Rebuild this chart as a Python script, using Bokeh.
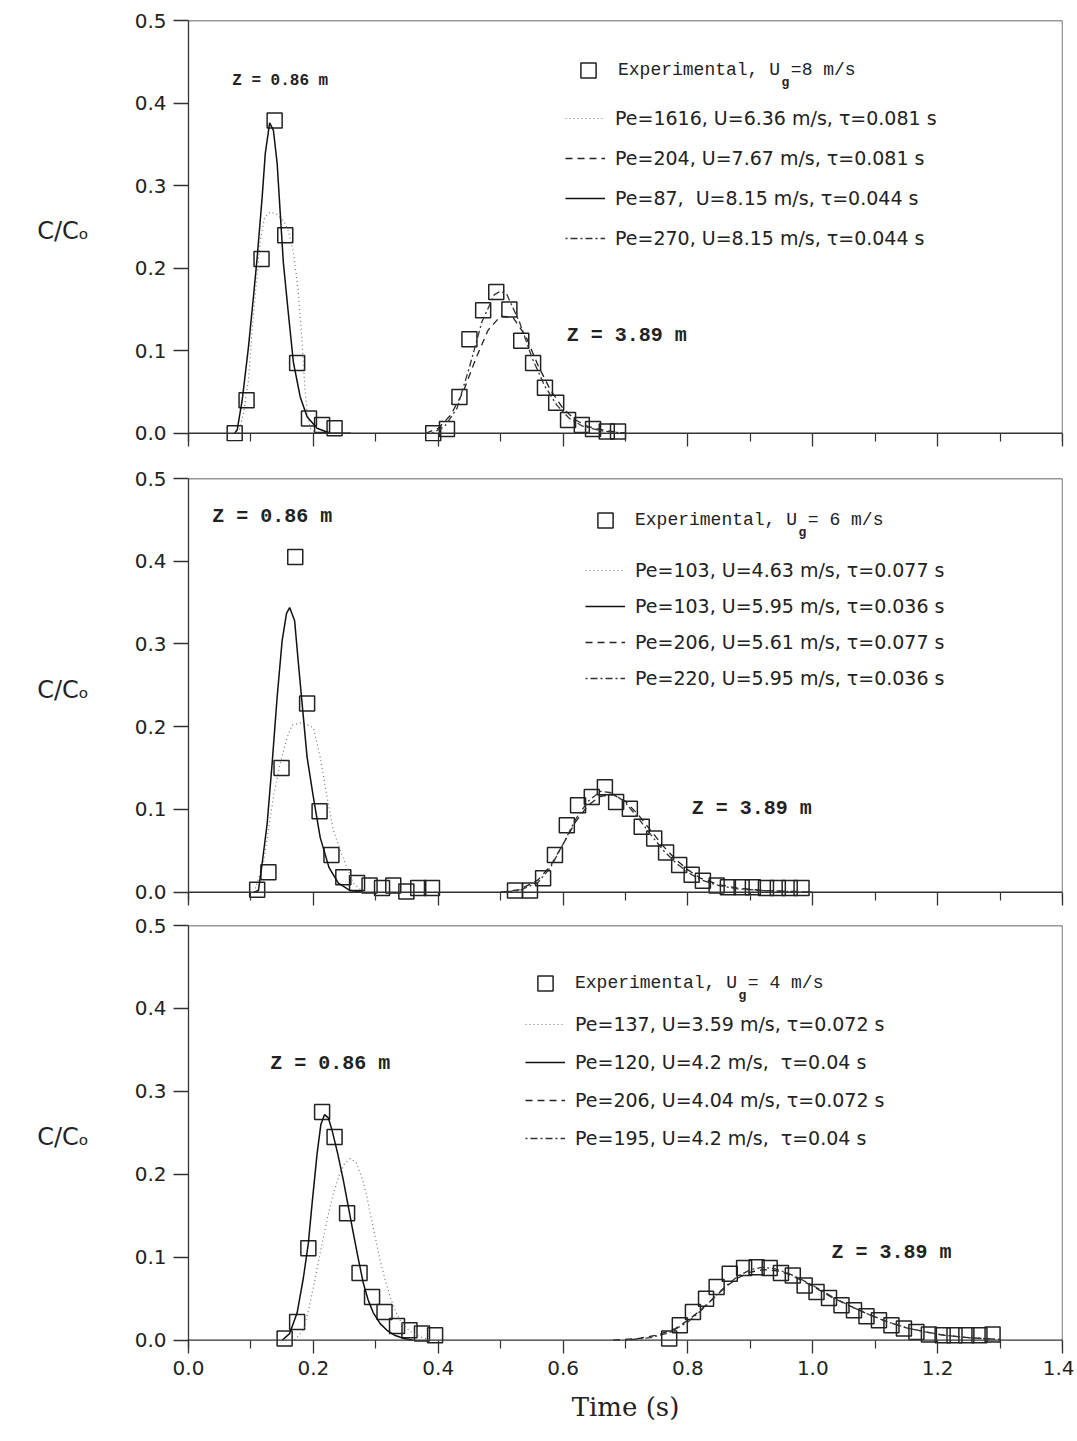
from bokeh.plotting import figure
from bokeh.models import Range1d, FixedTicker, PrintfTickFormatter, Span, Label, Legend, LegendItem
from bokeh.layouts import column
from bokeh.embed import file_html
from bokeh.resources import INLINE

# ---------------- axes ----------------
X_TICKS = [0.0, 0.2, 0.4, 0.6, 0.8, 1.0, 1.2, 1.4]
X_MINOR = [0.1, 0.3, 0.5, 0.7, 0.9, 1.1, 1.3]
Y_TICKS = [0.0, 0.1, 0.2, 0.3, 0.4, 0.5]

# ---------------- panel 1 : Ug = 8 m/s ----------------
p1_exp086_t = [0.074, 0.093, 0.117, 0.138, 0.155, 0.174, 0.193, 0.214, 0.234]
p1_exp086_c = [0.0, 0.040, 0.211, 0.379, 0.240, 0.085, 0.018, 0.010, 0.006]
p1_exp389_t = [0.392, 0.414, 0.434, 0.450, 0.472, 0.493, 0.514, 0.533, 0.552, 0.571,
               0.589, 0.608, 0.630, 0.648, 0.670, 0.688]
p1_exp389_c = [0.0, 0.005, 0.044, 0.114, 0.149, 0.171, 0.150, 0.112, 0.085, 0.055,
               0.037, 0.016, 0.010, 0.005, 0.002, 0.002]
# dotted Pe=1616 (Z=0.86)
p1_dot_t = [0.080, 0.088, 0.096, 0.102, 0.109, 0.115, 0.122, 0.131, 0.142, 0.154,
            0.160, 0.168, 0.176, 0.182, 0.186, 0.190, 0.195, 0.205]
p1_dot_c = [0.0, 0.024, 0.064, 0.125, 0.185, 0.234, 0.262, 0.268, 0.265, 0.255,
            0.245, 0.220, 0.170, 0.110, 0.060, 0.025, 0.006, 0.0]
# solid Pe=87 (Z=0.86)
p1_sol_t = [0.074, 0.078, 0.086, 0.096, 0.104, 0.110, 0.118, 0.123, 0.130, 0.136,
            0.142, 0.147, 0.152, 0.160, 0.168, 0.179, 0.190, 0.206, 0.227, 0.26]
p1_sol_c = [0.0, 0.004, 0.040, 0.104, 0.165, 0.213, 0.286, 0.339, 0.376, 0.367,
            0.327, 0.266, 0.206, 0.145, 0.086, 0.044, 0.020, 0.006, 0.0, 0.0]
# dashed Pe=204 (Z=3.89)
p1_dash_t = [0.38, 0.40, 0.42, 0.44, 0.46, 0.48, 0.50, 0.52, 0.54, 0.56,
             0.58, 0.60, 0.62, 0.64, 0.67, 0.70]
p1_dash_c = [0.0, 0.006, 0.022, 0.050, 0.090, 0.125, 0.142, 0.140, 0.118, 0.082,
             0.052, 0.030, 0.016, 0.008, 0.003, 0.0]
# dash-dot Pe=270 (Z=3.89)
p1_dd_t = [0.39, 0.41, 0.43, 0.45, 0.47, 0.49, 0.50, 0.51, 0.53, 0.55,
           0.57, 0.59, 0.61, 0.63, 0.66, 0.70]
p1_dd_c = [0.0, 0.008, 0.030, 0.080, 0.135, 0.168, 0.172, 0.168, 0.135, 0.092,
           0.058, 0.034, 0.018, 0.009, 0.003, 0.0]

# ---------------- panel 2 : Ug = 6 m/s ----------------
p2_exp086_t = [0.110, 0.128, 0.149, 0.171, 0.190, 0.210, 0.229, 0.248, 0.270, 0.290,
               0.310, 0.328, 0.349, 0.368, 0.390]
p2_exp086_c = [0.003, 0.024, 0.150, 0.405, 0.228, 0.098, 0.045, 0.018, 0.011, 0.008,
               0.005, 0.008, 0.001, 0.005, 0.005]
p2_exp389_t = [0.523, 0.547, 0.568, 0.587, 0.606, 0.624, 0.646, 0.667, 0.685, 0.707,
               0.726, 0.746, 0.765, 0.786, 0.806, 0.824, 0.846, 0.864, 0.886, 0.904,
               0.925, 0.944, 0.963, 0.982]
p2_exp389_c = [0.002, 0.002, 0.017, 0.045, 0.081, 0.105, 0.115, 0.127, 0.109, 0.101,
               0.079, 0.065, 0.048, 0.033, 0.021, 0.014, 0.008, 0.006, 0.006, 0.006,
               0.005, 0.005, 0.005, 0.005]
# dotted Pe=103, U=4.63
p2_dot_t = [0.105, 0.120, 0.128, 0.136, 0.147, 0.158, 0.166, 0.182, 0.200, 0.211,
            0.222, 0.232, 0.243, 0.251, 0.264, 0.280]
p2_dot_c = [0.0, 0.035, 0.075, 0.115, 0.156, 0.187, 0.202, 0.205, 0.199, 0.163,
            0.115, 0.075, 0.051, 0.035, 0.011, 0.0]
# solid Pe=103, U=5.95
p2_sol_t = [0.105, 0.112, 0.118, 0.126, 0.134, 0.142, 0.150, 0.157, 0.162, 0.170,
            0.176, 0.182, 0.190, 0.200, 0.211, 0.225, 0.240, 0.259, 0.280]
p2_sol_c = [0.0, 0.002, 0.035, 0.083, 0.156, 0.236, 0.304, 0.337, 0.344, 0.328,
            0.277, 0.228, 0.163, 0.115, 0.066, 0.030, 0.011, 0.002, 0.0]
# dashed Pe=206
p2_dash_t = [0.50, 0.53, 0.56, 0.58, 0.60, 0.62, 0.64, 0.66, 0.68, 0.70,
             0.72, 0.74, 0.76, 0.78, 0.80, 0.82, 0.85, 0.88, 0.92, 0.96, 1.00]
p2_dash_c = [0.0, 0.003, 0.015, 0.032, 0.058, 0.085, 0.105, 0.116, 0.118, 0.110,
             0.094, 0.075, 0.056, 0.040, 0.027, 0.017, 0.009, 0.005, 0.002, 0.001, 0.0]
# dash-dot Pe=220
p2_dd_t = [0.50, 0.53, 0.56, 0.58, 0.60, 0.62, 0.64, 0.66, 0.68, 0.70,
           0.72, 0.74, 0.76, 0.78, 0.80, 0.82, 0.85, 0.88, 0.92, 0.96, 1.00]
p2_dd_c = [0.0, 0.002, 0.012, 0.030, 0.058, 0.088, 0.110, 0.122, 0.120, 0.108,
           0.090, 0.070, 0.051, 0.036, 0.024, 0.015, 0.008, 0.004, 0.002, 0.001, 0.0]

# ---------------- panel 3 : Ug = 4 m/s ----------------
p3_exp086_t = [0.154, 0.174, 0.192, 0.214, 0.234, 0.254, 0.274, 0.294, 0.314, 0.334,
               0.354, 0.374, 0.395]
p3_exp086_c = [0.002, 0.022, 0.111, 0.275, 0.245, 0.153, 0.081, 0.052, 0.034, 0.017,
               0.012, 0.008, 0.006]
p3_exp389_t = [0.770, 0.787, 0.808, 0.829, 0.846, 0.867, 0.890, 0.910, 0.931, 0.949,
               0.968, 0.987, 1.006, 1.026, 1.046, 1.066, 1.086, 1.106, 1.126, 1.146,
               1.166, 1.186, 1.208, 1.227, 1.246, 1.267, 1.288]
p3_exp389_c = [0.002, 0.018, 0.034, 0.050, 0.064, 0.080, 0.087, 0.088, 0.087, 0.081,
               0.078, 0.066, 0.058, 0.051, 0.042, 0.036, 0.029, 0.024, 0.018, 0.014,
               0.010, 0.007, 0.006, 0.006, 0.006, 0.006, 0.007]
# dotted Pe=137
p3_dot_t = [0.170, 0.184, 0.192, 0.200, 0.208, 0.216, 0.224, 0.232, 0.242, 0.250,
            0.259, 0.268, 0.278, 0.285, 0.291, 0.299, 0.307, 0.315, 0.323, 0.331,
            0.339, 0.350, 0.360, 0.375, 0.390]
p3_dot_c = [0.0, 0.012, 0.035, 0.064, 0.094, 0.124, 0.152, 0.177, 0.200, 0.213,
            0.219, 0.215, 0.196, 0.176, 0.153, 0.125, 0.096, 0.073, 0.052, 0.036,
            0.024, 0.014, 0.008, 0.003, 0.0]
# solid Pe=120
p3_sol_t = [0.150, 0.162, 0.174, 0.184, 0.192, 0.198, 0.206, 0.212, 0.218, 0.224,
            0.230, 0.239, 0.248, 0.256, 0.264, 0.272, 0.280, 0.288, 0.296, 0.307,
            0.318, 0.330, 0.345, 0.360]
p3_sol_c = [0.0, 0.008, 0.033, 0.075, 0.117, 0.165, 0.225, 0.260, 0.272, 0.268,
            0.253, 0.225, 0.193, 0.161, 0.129, 0.098, 0.069, 0.048, 0.033, 0.020,
            0.012, 0.006, 0.002, 0.0]
# dashed Pe=206
p3_dash_t = [0.68, 0.72, 0.75, 0.78, 0.80, 0.82, 0.84, 0.86, 0.88, 0.90,
             0.92, 0.94, 0.96, 0.98, 1.00, 1.03, 1.06, 1.09, 1.12, 1.15,
             1.18, 1.21, 1.25, 1.30]
p3_dash_c = [0.0, 0.002, 0.006, 0.014, 0.024, 0.036, 0.050, 0.064, 0.075, 0.082,
             0.085, 0.084, 0.080, 0.073, 0.065, 0.052, 0.041, 0.031, 0.022, 0.015,
             0.010, 0.006, 0.003, 0.001]
# dash-dot Pe=195
p3_dd_t = [0.70, 0.74, 0.77, 0.80, 0.82, 0.84, 0.86, 0.88, 0.90, 0.92,
           0.94, 0.96, 0.98, 1.00, 1.03, 1.06, 1.09, 1.12, 1.15, 1.18,
           1.21, 1.25, 1.30]
p3_dd_c = [0.0, 0.003, 0.009, 0.022, 0.035, 0.050, 0.065, 0.077, 0.085, 0.088,
           0.086, 0.081, 0.074, 0.066, 0.053, 0.041, 0.031, 0.022, 0.015, 0.010,
           0.006, 0.003, 0.001]

# legend texts
p1_exp_label = "Experimental, U =8 m/s"
p1_line_labels = ["Pe=1616, U=6.36 m/s, \u03c4=0.081 s",
                  "Pe=204, U=7.67 m/s, \u03c4=0.081 s",
                  "Pe=87,  U=8.15 m/s, \u03c4=0.044 s",
                  "Pe=270, U=8.15 m/s, \u03c4=0.044 s"]
p2_exp_label = "Experimental, U = 6 m/s"
p2_line_labels = ["Pe=103, U=4.63 m/s, \u03c4=0.077 s",
                  "Pe=103, U=5.95 m/s, \u03c4=0.036 s",
                  "Pe=206, U=5.61 m/s, \u03c4=0.077 s",
                  "Pe=220, U=5.95 m/s, \u03c4=0.036 s"]
p3_exp_label = "Experimental, U = 4 m/s"
p3_line_labels = ["Pe=137, U=3.59 m/s, \u03c4=0.072 s",
                  "Pe=120, U=4.2 m/s,  \u03c4=0.04 s",
                  "Pe=206, U=4.04 m/s, \u03c4=0.072 s",
                  "Pe=195, U=4.2 m/s,  \u03c4=0.04 s"]

AX = "#333333"
TICK_FONT = "DejaVu Sans"
MONO = "Liberation Mono"

STYLES = {
    "dot": dict(line_color="#777777", line_width=1.2, line_dash="1 3"),
    "sol": dict(line_color="#111111", line_width=1.5, line_dash="solid"),
    "dash": dict(line_color="#222222", line_width=1.3, line_dash="7 5"),
    "dd": dict(line_color="#333333", line_width=1.3, line_dash="2 3 7 3"),
}


def make_panel(height, top, bottom, last):
    p = figure(width=1074, height=height, x_range=Range1d(0, 1.4), y_range=Range1d(-0.01, 0.5),
               output_backend="svg", toolbar_location=None,
               min_border_left=188, min_border_right=12, min_border_top=top, min_border_bottom=bottom)
    p.outline_line_color = None
    p.grid.visible = False
    p.background_fill_color = "white"
    p.border_fill_color = "white"
    # x axis
    xa = p.xaxis[0]
    xa.ticker = FixedTicker(ticks=X_TICKS, minor_ticks=X_MINOR)
    xa.formatter = PrintfTickFormatter(format="%.1f")
    xa.axis_line_color = None
    xa.major_tick_line_color = AX
    xa.major_tick_line_width = 1.3
    xa.major_tick_in = 8
    xa.major_tick_out = 5
    xa.minor_tick_line_color = AX
    xa.minor_tick_line_width = 1.2
    xa.minor_tick_in = 8
    xa.minor_tick_out = 0
    if last:
        xa.major_label_text_font = TICK_FONT
        xa.major_label_text_font_size = "20px"
        xa.major_label_text_color = "#222222"
        xa.major_label_standoff = 7
        xa.axis_label = "Time (s)"
        xa.axis_label_text_font = "DejaVu Serif"
        xa.axis_label_text_font_size = "26px"
        xa.axis_label_text_font_style = "normal"
        xa.axis_label_text_color = "#222222"
        xa.axis_label_standoff = 14
    else:
        xa.major_label_text_color = None
        xa.major_label_standoff = 0
    # y axis
    ya = p.yaxis[0]
    ya.ticker = FixedTicker(ticks=Y_TICKS)
    ya.formatter = PrintfTickFormatter(format="%.1f")
    ya.axis_line_color = AX
    ya.axis_line_width = 1.3
    ya.major_tick_line_color = AX
    ya.major_tick_line_width = 1.3
    ya.major_tick_in = 0
    ya.major_tick_out = 15
    ya.minor_tick_line_color = None
    ya.major_label_text_font = TICK_FONT
    ya.major_label_text_font_size = "20px"
    ya.major_label_text_color = "#222222"
    ya.major_label_standoff = 7
    ya.axis_label = "C/C\u2092"
    ya.axis_label_orientation = "horizontal"
    ya.axis_label_text_font = TICK_FONT
    ya.axis_label_text_font_size = "24px"
    ya.axis_label_text_font_style = "normal"
    ya.axis_label_text_color = "#222222"
    ya.axis_label_standoff = 43
    # frame lines: zero baseline, top and right borders
    p.add_layout(Span(location=0.0, dimension="width", line_color=AX, line_width=1.3))
    p.add_layout(Span(location=0.5, dimension="width", line_color=AX, line_width=1.3))
    p.add_layout(Span(location=1.4, dimension="height", line_color=AX, line_width=1.3))
    return p


def fill_panel(p, exp086, exp389, curves, order, exp_label, line_labels,
               leg_a, leg_b, spacing, z_labels):
    sq = p.scatter(exp086[0], exp086[1], marker="square", size=15, fill_color=None,
                   line_color="#222222", line_width=1.5)
    p.scatter(exp389[0], exp389[1], marker="square", size=15, fill_color=None,
              line_color="#222222", line_width=1.5)
    rends = {}
    for key, (t, c) in curves.items():
        rends[key] = p.line(t, c, **STYLES[key])
    la = Legend(items=[LegendItem(label=exp_label, renderers=[sq])], location=leg_a,
                border_line_color=None, background_fill_alpha=0, padding=0, margin=0,
                glyph_width=40, glyph_height=38, label_height=38, label_standoff=10,
                label_text_font=MONO, label_text_font_size="18px", label_text_color="#222222")
    lb = Legend(items=[LegendItem(label=lab, renderers=[rends[k]]) for lab, k in zip(line_labels, order)],
                location=leg_b, spacing=spacing,
                border_line_color=None, background_fill_alpha=0, padding=0, margin=0,
                glyph_width=40, glyph_height=22, label_height=22, label_standoff=10,
                label_text_font=TICK_FONT, label_text_font_size="19px", label_text_color="#222222")
    p.add_layout(la)
    p.add_layout(lb)
    # subscript g of U_g
    p.add_layout(Label(x=leg_a[0] + 50 + 167, y=leg_a[1] + 7, x_units="screen", y_units="screen",
                       text="g", text_font=MONO, text_font_size="13px", text_font_style="bold",
                       text_align="center", text_baseline="middle", text_color="#222222"))
    for (x, y, txt, size) in z_labels:
        p.add_layout(Label(x=x, y=y, text=txt, text_font=MONO, text_font_style="bold",
                           text_font_size=size, text_align="left", text_baseline="middle",
                           text_color="#222222"))


p1 = make_panel(461, 20, 20, False)
fill_panel(p1, (p1_exp086_t, p1_exp086_c), (p1_exp389_t, p1_exp389_c),
           {"dot": (p1_dot_t, p1_dot_c), "sol": (p1_sol_t, p1_sol_c),
            "dash": (p1_dash_t, p1_dash_c), "dd": (p1_dd_t, p1_dd_c)},
           ["dot", "dash", "sol", "dd"], p1_exp_label, p1_line_labels,
           (380, 352), (377, 192), 18,
           [(0.070, 0.427, "Z = 0.86 m", "16px"), (0.606, 0.119, "Z = 3.89 m", "20px")])

p2 = make_panel(451, 17, 12, False)
fill_panel(p2, (p2_exp086_t, p2_exp086_c), (p2_exp389_t, p2_exp389_c),
           {"dot": (p2_dot_t, p2_dot_c), "sol": (p2_sol_t, p2_sol_c),
            "dash": (p2_dash_t, p2_dash_c), "dd": (p2_dd_t, p2_dd_c)},
           ["dot", "sol", "dash", "dd"], p2_exp_label, p2_line_labels,
           (397, 361), (397, 211), 14,
           [(0.038, 0.454, "Z = 0.86 m", "20px"), (0.806, 0.101, "Z = 3.89 m", "20px")])

p3 = make_panel(523, 13, 87, True)
fill_panel(p3, (p3_exp086_t, p3_exp086_c), (p3_exp389_t, p3_exp389_c),
           {"dot": (p3_dot_t, p3_dot_c), "sol": (p3_sol_t, p3_sol_c),
            "dash": (p3_dash_t, p3_dash_c), "dd": (p3_dd_t, p3_dd_c)},
           ["dot", "sol", "dash", "dd"], p3_exp_label, p3_line_labels,
           (337, 346), (337, 199), 16,
           [(0.131, 0.334, "Z = 0.86 m", "20px"), (1.030, 0.106, "Z = 3.89 m", "20px")])

layout = column(p1, p2, p3, spacing=0)
open("out.html", "w").write(file_html(layout, INLINE))
